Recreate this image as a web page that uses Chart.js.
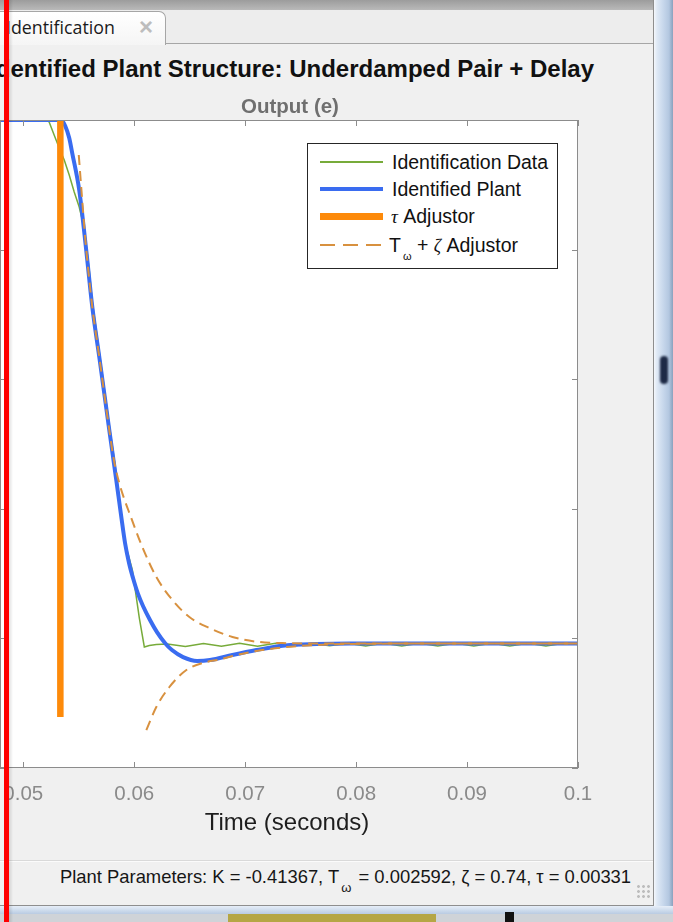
<!DOCTYPE html>
<html>
<head>
<meta charset="utf-8">
<script src="https://cdn.jsdelivr.net/npm/chart.js@4.4.1/dist/chart.umd.min.js"></script>
<style>
  body { margin: 0; width: 673px; height: 922px; overflow: hidden; background: #f0f0f0; position: relative;
         font-family: 'Liberation Sans', Arial, sans-serif; }
  .abs { position: absolute; white-space: nowrap; }
  .ser { font-family: 'Liberation Serif', serif; font-style: italic; }
</style>
</head>
<body>
<!-- window chrome -->
<div class="abs" style="left:0;top:0;width:673px;height:10px;background:linear-gradient(#9c9c9c,#b9b9b9)"></div>
<div class="abs" style="left:0;top:10px;width:654px;height:33px;background:#ededed;border-bottom:1px solid #a6a6a6"></div>
<div class="abs" style="left:-12px;top:11px;width:176px;height:33px;background:linear-gradient(#ffffff,#f5f5f5);border:1px solid #a6a6a6;border-bottom:none;border-top-right-radius:7px"></div>
<div class="abs" style="left:6px;top:15px;font-family:'Open Sans',sans-serif;font-size:17.8px;line-height:24px;color:#1a1a1a">Identification</div>
<div class="abs" style="left:139px;top:13px;font-size:24px;line-height:28px;font-weight:bold;color:#bdbdbd">×</div>

<canvas id="chart" width="680" height="720" style="position:absolute;left:-62px;top:100px"></canvas>

<div class="abs" style="left:-100px;top:57px;width:694px;text-align:right;font-size:24px;line-height:24px;font-weight:bold;color:#111">Identified Plant Structure: Underdamped Pair + Delay</div>
<div class="abs" style="left:90px;top:96px;width:400px;text-align:center;font-size:20.5px;line-height:20.5px;font-weight:bold;color:#6f6f6f">Output (e)</div>

<!-- legend -->
<div class="abs" style="left:307px;top:143px;width:249px;height:124px;border:1px solid #262626;background:#fff"></div>
<div class="abs" style="left:320px;top:161px;width:63px;height:1.5px;background:#77ab3a"></div>
<div class="abs" style="left:320px;top:187px;width:63px;height:4px;background:#3a6cf0"></div>
<div class="abs" style="left:320px;top:213px;width:63px;height:7px;background:#fd8a0a"></div>
<div class="abs" style="left:320px;top:244px;width:63px;height:2px;background:repeating-linear-gradient(to right,#d8913f 0 15px,transparent 15px 23px)"></div>
<div class="abs" style="left:392px;top:152.5px;font-size:19.5px;line-height:19.5px;color:#111">Identification Data</div>
<div class="abs" style="left:392px;top:179.5px;font-size:19.5px;line-height:19.5px;color:#111">Identified Plant</div>
<div class="abs" style="left:391px;top:206.5px;font-size:19.5px;line-height:19.5px;color:#111"><span class="ser" style="font-size:19px">τ</span> Adjustor</div>
<div class="abs" style="left:389px;top:235.5px;font-size:19.5px;line-height:19.5px;color:#111">T<span style="font-size:11px;position:relative;top:8px;margin-left:2px">ω</span> + <span class="ser" style="font-size:18px">ζ</span> Adjustor</div>

<div class="abs" style="left:87px;top:810px;width:400px;text-align:center;font-size:24px;line-height:24px;color:#1e1e1e">Time (seconds)</div>

<!-- status bar -->
<div class="abs" style="left:0;top:860px;width:654px;height:1px;background:#d9d9d9"></div>
<div class="abs" style="left:0;top:861px;width:654px;height:1px;background:#fbfbfb"></div>
<div class="abs" style="left:60px;top:868px;font-size:18.4px;line-height:18.4px;color:#161616">Plant Parameters: K = -0.41367, T<span style="font-size:13px;position:relative;top:9px;margin:0 2px">ω</span> = 0.002592, ζ = 0.74, τ = 0.00331</div>
<div class="abs" style="left:636px;top:884px;width:16px;height:16px;background:radial-gradient(circle,#bdbdbd 1.2px,transparent 1.6px) 0 0/5px 5px"></div>

<!-- right and bottom frame -->
<div class="abs" style="left:653px;top:0;width:1px;height:906px;background:#8e8e8e"></div>
<div class="abs" style="left:654px;top:0;width:19px;height:910px;background:linear-gradient(to right,#f4f7fb 0,#dfe9f5 3px,#c8d8ec 9px,#b3c7e0 15px,#8aa1bd 19px)"></div>
<div class="abs" style="left:660px;top:356px;width:8px;height:28px;border-radius:4px;background:#1d2945;filter:blur(1px)"></div>
<div class="abs" style="left:0;top:905px;width:654px;height:1px;background:#8e8e8e"></div>
<div class="abs" style="left:0;top:906px;width:673px;height:8px;background:linear-gradient(#e6eef8,#b9cbe2)"></div>
<div class="abs" style="left:0;top:914px;width:673px;height:8px;background:#cfd3d8"></div>
<div class="abs" style="left:228px;top:914px;width:208px;height:8px;background:#b5a645"></div>
<div class="abs" style="left:505px;top:912px;width:9px;height:10px;background:#111"></div>

<!-- red marker line -->
<div class="abs" style="left:9px;top:0;width:4px;height:922px;background:linear-gradient(to right,rgba(0,0,0,0.12),rgba(0,0,0,0))"></div>
<div class="abs" style="left:4px;top:0;width:5px;height:922px;background:#ff0000"></div>

<script>
const xTicks = [0.05, 0.06, 0.07, 0.08, 0.09, 0.1];
const xTickLabels = ['0.05', '0.06', '0.07', '0.08', '0.09', '0.1'];
const yTicks = [0, -0.1, -0.2, -0.3, -0.4, -0.5];
const yTickLabels = ['0', '-0.1', '-0.2', '-0.3', '-0.4', '-0.5'];

// Identification Data (measured response)
const dataTime = [0.0479, 0.05206, 0.05233, 0.05278, 0.05324, 0.05369, 0.05414, 0.05459, 0.05504, 0.05549,
    0.05594, 0.05622, 0.05685, 0.05775, 0.05838, 0.05910, 0.05983, 0.06046, 0.06091, 0.06136,
    0.06199, 0.06299, 0.06461, 0.06624, 0.06786, 0.06949, 0.07111, 0.07274, 0.07436, 0.07599,
    0.07761, 0.07924, 0.08086, 0.08249, 0.08411, 0.08574, 0.08736, 0.08899, 0.09061, 0.09224,
    0.09386, 0.09549, 0.09711, 0.09874, 0.1];
const dataValue = [0, 0, -0.0015, -0.0116, -0.0216, -0.0309, -0.0424, -0.0556, -0.0671, -0.0833,
    -0.1157, -0.1404, -0.1790, -0.2353, -0.2731, -0.3241, -0.3472, -0.3843, -0.4066, -0.4055,
    -0.4047, -0.4043, -0.4062, -0.4039, -0.4061, -0.4037, -0.4060, -0.4038, -0.4059, -0.4038,
    -0.4057, -0.4038, -0.4058, -0.4038, -0.4058, -0.4038, -0.4058, -0.4038, -0.4058, -0.4038,
    -0.4058, -0.4038, -0.4058, -0.4038, -0.4048];

// Identified Plant
const plantTime = [0.0479, 0.05342, 0.05378, 0.05414, 0.05441, 0.05504, 0.05567, 0.05622, 0.05685, 0.05775,
    0.05838, 0.05881, 0.05917, 0.05953, 0.05989, 0.06034, 0.06079, 0.06142, 0.06205, 0.06277,
    0.06340, 0.06440, 0.06566, 0.06683, 0.06885, 0.07102, 0.07337, 0.07644, 0.07942, 0.1];
const plantValue = [0, 0, -0.0046, -0.0139, -0.0255, -0.0540, -0.1003, -0.1443, -0.1829, -0.2392,
    -0.2778, -0.3048, -0.3264, -0.3418, -0.3534, -0.3657, -0.3750, -0.3858, -0.3951, -0.4035,
    -0.4090, -0.4144, -0.4174, -0.4167, -0.4128, -0.4090, -0.4056, -0.4043, -0.4039, -0.4039];

// tau adjustor (vertical bar at the delay)
const tauTime = [0.05334, 0.05334];
const tauValue = [0, -0.4606];

// T_w + zeta adjustor, upper and lower envelope
const upperTime = [0.05500, 0.05531, 0.05558, 0.05622, 0.05685, 0.05775, 0.05820, 0.05865, 0.05910, 0.05956,
    0.06073, 0.06199, 0.06344, 0.06497, 0.06678, 0.06885, 0.07129, 0.07400, 0.07671, 0.1];
const upperValue = [-0.0270, -0.0617, -0.0910, -0.1443, -0.1829, -0.2392, -0.2639, -0.2801, -0.2924, -0.3032,
    -0.3295, -0.3526, -0.3704, -0.3835, -0.3920, -0.3989, -0.4028, -0.4037, -0.4039, -0.4039];
const lowerTime = [0.06109, 0.06199, 0.06317, 0.06470, 0.06651, 0.06768, 0.06885, 0.07102, 0.07337, 0.07644,
    0.07942, 0.08393, 0.1];
const lowerValue = [-0.4707, -0.4529, -0.4375, -0.4244, -0.4182, -0.4163, -0.4136, -0.4097, -0.4070, -0.4051,
    -0.4043, -0.4040, -0.4039];

const toPoints = (ts, vs) => ts.map((t, i) => ({ x: t, y: vs[i] }));

// white axes background, box and inward ticks like matlab
const axesBox = {
    id: 'axesBox',
    beforeDraw(chart) {
        const { ctx, chartArea: a } = chart;
        ctx.save();
        ctx.fillStyle = '#ffffff';
        ctx.fillRect(a.left, a.top, a.right - a.left, a.bottom - a.top);
        ctx.restore();
    },
    afterDatasetsDraw(chart) {
        const { ctx, chartArea: a, scales: { x, y } } = chart;
        ctx.save();
        ctx.strokeStyle = '#8c8c8c';
        ctx.lineWidth = 1;
        ctx.strokeRect(a.left + 0.5, a.top + 0.5, a.right - a.left - 1, a.bottom - a.top - 1);
        ctx.beginPath();
        xTicks.forEach(v => {
            const px = Math.round(x.getPixelForValue(v)) + 0.5;
            ctx.moveTo(px, a.bottom); ctx.lineTo(px, a.bottom - 6);
            ctx.moveTo(px, a.top); ctx.lineTo(px, a.top + 6);
        });
        yTicks.forEach(v => {
            const py = Math.round(y.getPixelForValue(v)) + 0.5;
            ctx.moveTo(a.left, py); ctx.lineTo(a.left + 6, py);
            ctx.moveTo(a.right, py); ctx.lineTo(a.right - 6, py);
        });
        ctx.stroke();
        ctx.restore();
    }
};

new Chart(document.getElementById('chart'), {
    type: 'line',
    data: {
        datasets: [
            { label: 'Identification Data', data: toPoints(dataTime, dataValue), borderColor: '#77ab3a',
              borderWidth: 1.5, tension: 0, order: 4 },
            { label: 'Identified Plant', data: toPoints(plantTime, plantValue), borderColor: '#3a6cf0',
              borderWidth: 4, cubicInterpolationMode: 'monotone', order: 3 },
            { label: 'T\u03c9 + \u03b6 Adjustor', data: toPoints(lowerTime, lowerValue), borderColor: '#d8913f',
              borderWidth: 2, borderDash: [10, 6], cubicInterpolationMode: 'monotone', order: 2 },
            { label: 'T\u03c9 + \u03b6 Adjustor', data: toPoints(upperTime, upperValue), borderColor: '#d8913f',
              borderWidth: 2, borderDash: [10, 6], cubicInterpolationMode: 'monotone', order: 1 },
            { label: '\u03c4 Adjustor', data: toPoints(tauTime, tauValue), borderColor: '#fd8a0a',
              borderWidth: 6.5, borderCapStyle: 'butt', tension: 0, order: 0 }
        ]
    },
    options: {
        responsive: false,
        animation: false,
        parsing: false,
        elements: { point: { radius: 0 } },
        layout: { padding: { top: 20, right: 40, left: 0, bottom: 0 } },
        plugins: { legend: { display: false }, tooltip: { enabled: false }, title: { display: false } },
        scales: {
            x: {
                type: 'linear', min: 0.0479, max: 0.1,
                grid: { display: false, drawTicks: false },
                border: { display: false },
                afterBuildTicks: s => { s.ticks = xTicks.map(v => ({ value: v })); },
                afterFit: s => { s.height = 52; s.paddingLeft = 0; s.paddingRight = 0; },
                ticks: {
                    callback: (v, i) => xTickLabels[i],
                    autoSkip: false, maxRotation: 0, padding: 14, color: '#8a8a8a',
                    font: { family: "'Liberation Sans', Arial, sans-serif", size: 20.5 }
                }
            },
            y: {
                type: 'linear', min: -0.5, max: 0,
                grid: { display: false, drawTicks: false },
                border: { display: false },
                afterBuildTicks: s => { s.ticks = yTicks.map(v => ({ value: v })); },
                afterFit: s => { s.width = 62; s.paddingTop = 0; s.paddingBottom = 0; },
                ticks: {
                    callback: (v, i) => yTickLabels[i],
                    padding: 10, color: '#8a8a8a',
                    font: { family: "'Liberation Sans', Arial, sans-serif", size: 20.5 }
                }
            }
        }
    },
    plugins: [axesBox]
});
</script>
</body>
</html>
